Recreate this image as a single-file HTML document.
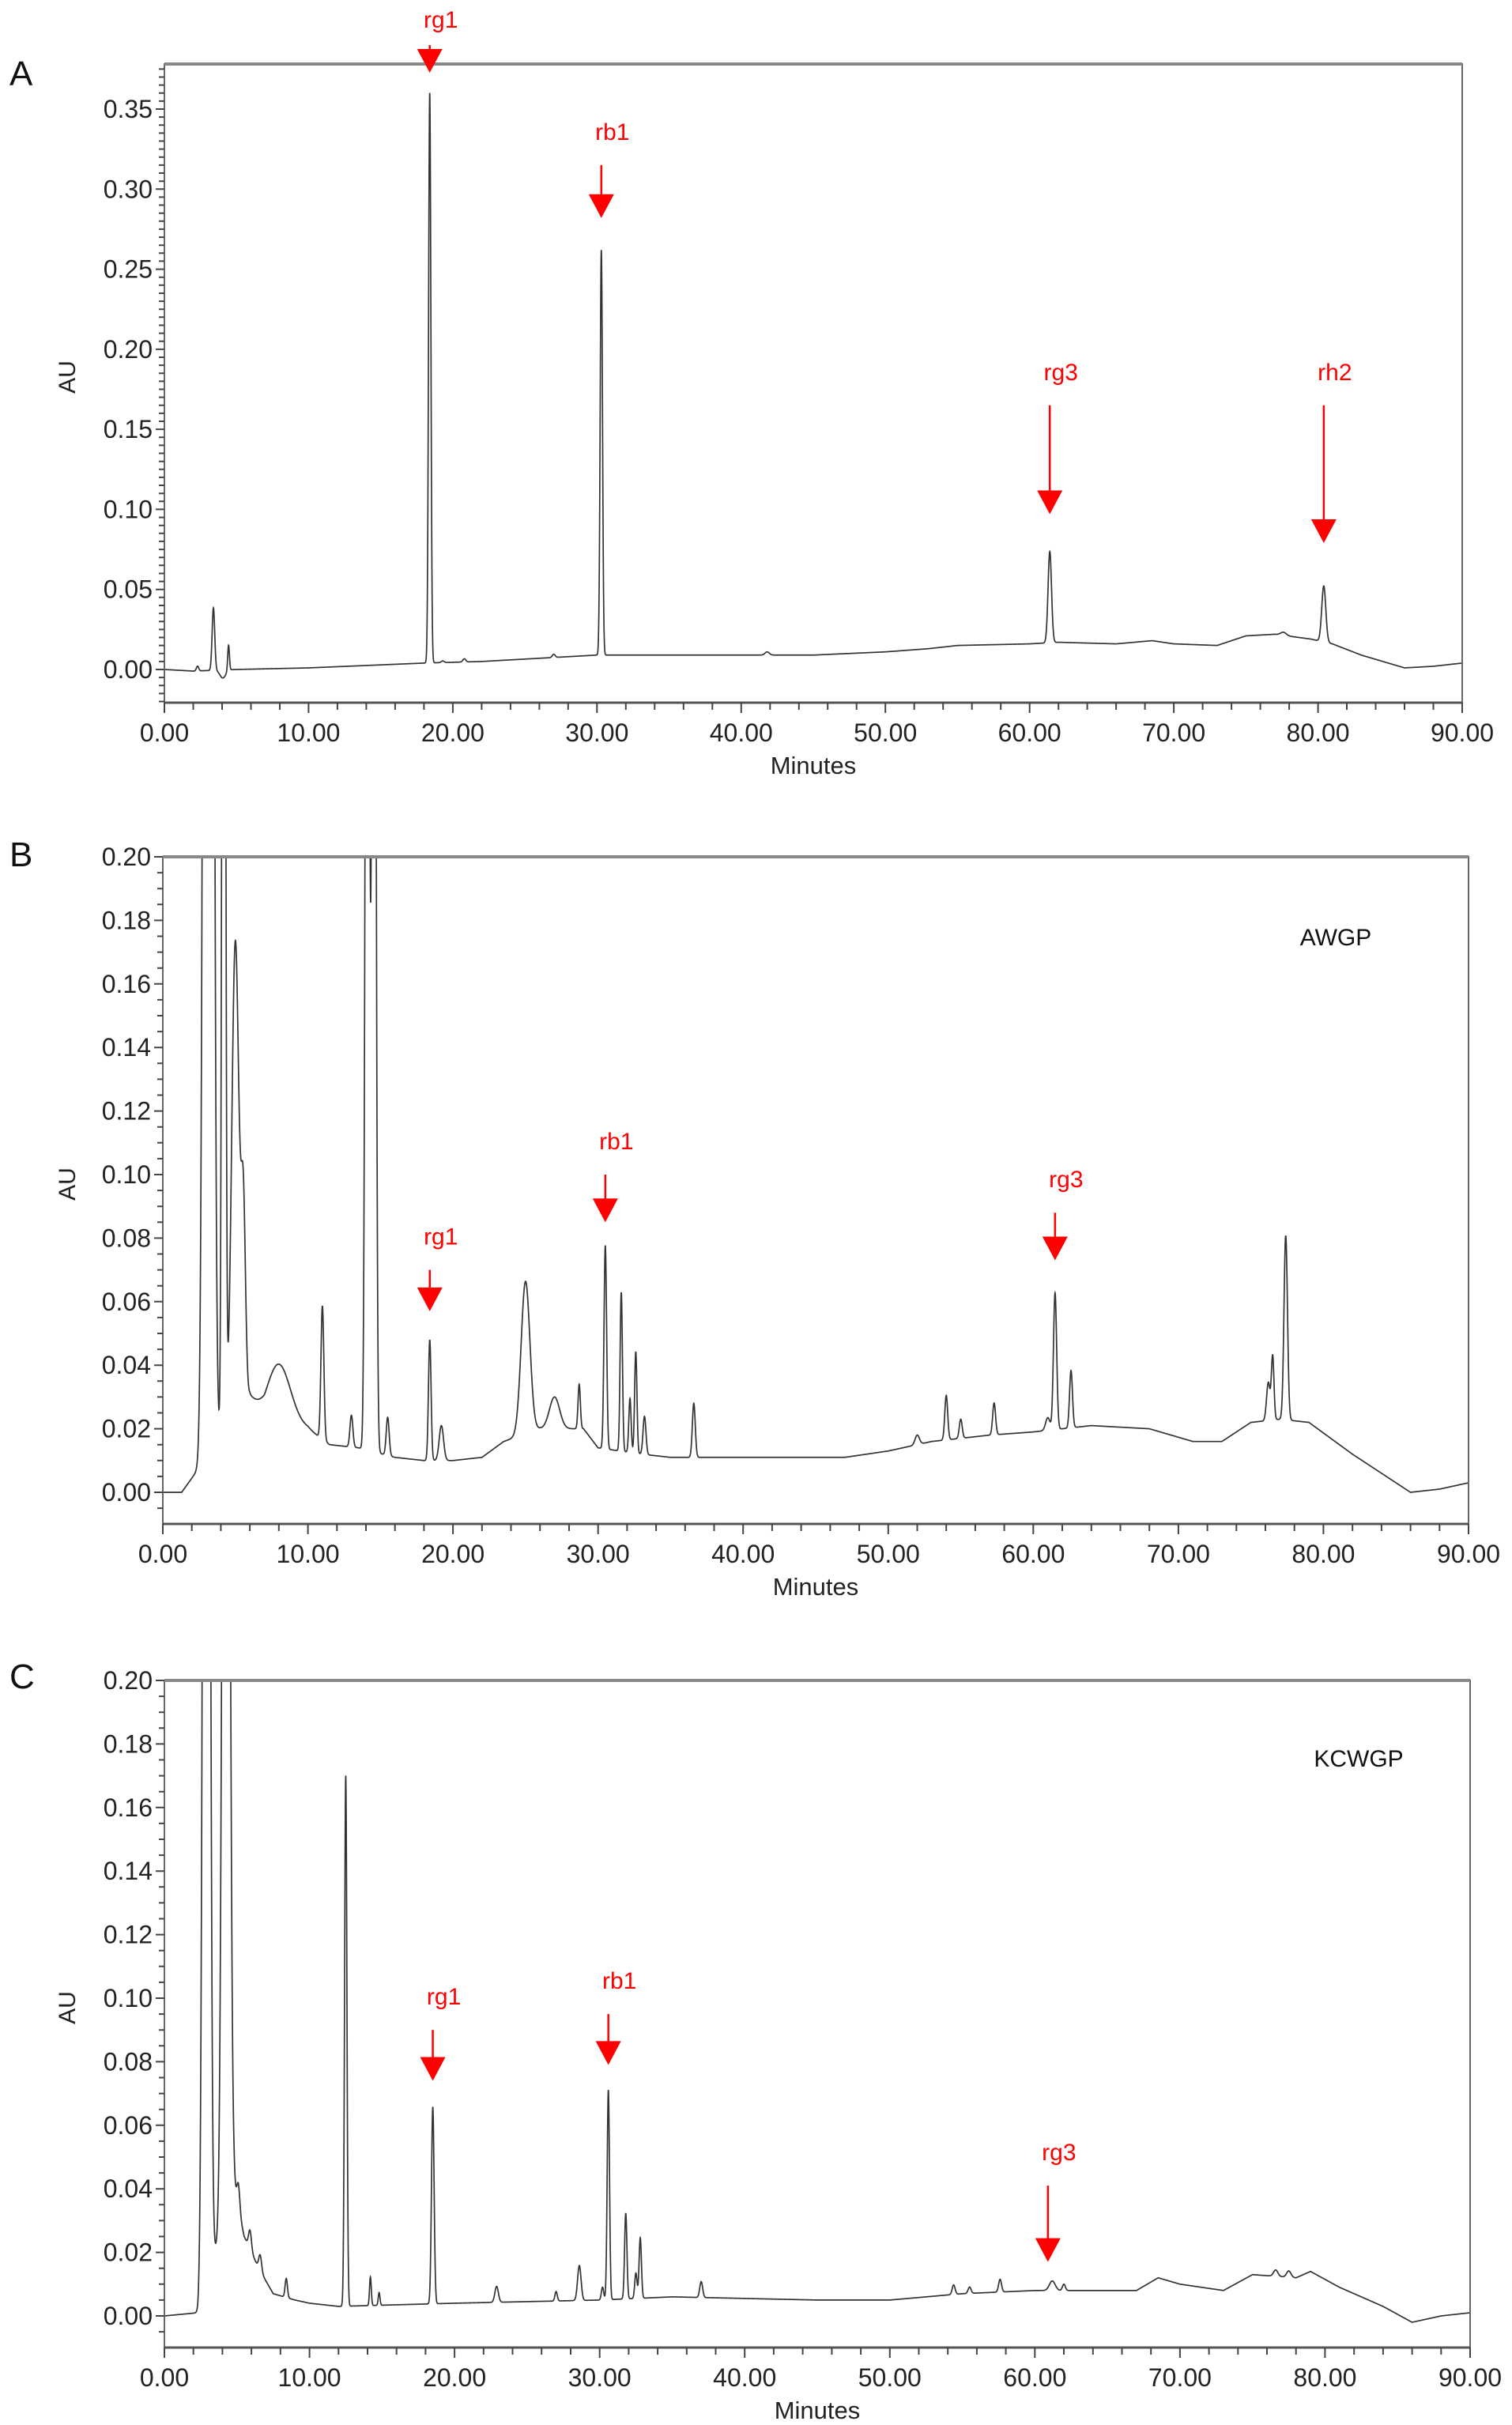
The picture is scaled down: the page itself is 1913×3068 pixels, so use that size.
<!DOCTYPE html>
<html><head><meta charset="utf-8">
<style>
html,body{margin:0;padding:0;background:#fff;}
svg{display:block;font-family:"Liberation Sans",Arial,sans-serif;}
</style></head>
<body>
<svg id="fig" width="1913" height="3068" viewBox="0 0 1913 3068" xmlns="http://www.w3.org/2000/svg"></svg>
<script>
// ---------- Panel A data ----------
const aBaseT = [0,2,5,10,18,22,30,40,45,50,53,55,60,62,66,68.5,70,73,75,77,79.5,81,83,86,88,90];
const aBaseV = [0,-0.001,0,0.001,0.004,0.005,0.009,0.009,0.009,0.011,0.013,0.015,0.016,0.017,0.016,0.018,0.016,0.015,0.021,0.022,0.019,0.016,0.009,0.001,0.002,0.004];
const aPeakT = [2.3,3.4,4.05,4.45,18.4,19.3,20.8,27,30.3,41.8,61.4,77.6,80.4];
const aPeakH = [0.003,0.039,-0.005,0.016,0.356,0.001,0.002,0.002,0.253,0.002,0.057,0.002,0.035];
const aPeakW = [0.08,0.09,0.2,0.06,0.08,0.1,0.1,0.1,0.08,0.15,0.12,0.2,0.14];
const aYTicks = [0,0.05,0.10,0.15,0.20,0.25,0.30,0.35];
// ---------- Panel B data ----------
const bBaseT = [0,1.3,6,7,10,11.5,13.5,16,18,20,22,23.5,26,29,30,33,35,40,47,50,53,57,60,64,68,71,73,75,77,79,82,86,88,90];
const bBaseV = [0,0,0.03,0.022,0.02,0.015,0.014,0.011,0.01,0.01,0.011,0.016,0.02,0.02,0.014,0.012,0.011,0.011,0.011,0.013,0.016,0.018,0.019,0.021,0.02,0.016,0.016,0.022,0.023,0.022,0.012,0,0.001,0.003];
const bPeakT = [3.15,4.2,5.0,5.55,8,11,13,14.1,14.55,15.5,18.4,19.2,25,27,28.7,30.5,31.6,32.2,32.6,33.2,36.6,52,54,55,57.3,61,61.5,62.6,76.2,76.5,77.4];
const bPeakH = [1.5,0.6,0.15,0.06,0.019,0.042,0.01,0.5,0.5,0.012,0.038,0.011,0.048,0.01,0.014,0.064,0.05,0.017,0.032,0.012,0.017,0.003,0.014,0.006,0.01,0.004,0.043,0.018,0.012,0.02,0.058];
const bPeakW = [0.22,0.1,0.25,0.15,0.8,0.1,0.1,0.12,0.12,0.1,0.09,0.15,0.3,0.35,0.08,0.09,0.08,0.08,0.08,0.1,0.1,0.15,0.1,0.1,0.1,0.15,0.11,0.1,0.12,0.09,0.12];
const bYTicks = [0,0.02,0.04,0.06,0.08,0.10,0.12,0.14,0.16,0.18,0.20];
// ---------- Panel C data ----------
const cBaseT = [0,2.3,4.8,5.5,6.5,7.5,9,10,12,20,30,35,45,50,55,60,62,67,68.5,70,73,75,78,79,81,84,86,88,90];
const cBaseV = [0,0.001,0.04,0.025,0.015,0.007,0.005,0.004,0.003,0.004,0.005,0.006,0.005,0.005,0.007,0.008,0.008,0.008,0.012,0.01,0.008,0.013,0.012,0.014,0.009,0.003,-0.002,0,0.001];
const cPeakT = [2.9,4.25,5.1,5.9,6.6,8.4,12.5,14.2,14.8,18.5,22.9,27,28.6,30.2,30.6,31.8,32.5,32.8,37,54.4,55.5,57.6,61.2,62,76.6,77.5];
const cPeakH = [0.8,0.6,0.008,0.006,0.005,0.006,0.167,0.009,0.004,0.062,0.005,0.003,0.011,0.004,0.066,0.027,0.008,0.019,0.005,0.003,0.002,0.004,0.003,0.002,0.002,0.002];
const cPeakW = [0.18,0.2,0.1,0.1,0.1,0.08,0.08,0.06,0.06,0.09,0.12,0.08,0.12,0.08,0.08,0.08,0.08,0.08,0.1,0.1,0.1,0.1,0.2,0.1,0.15,0.15];
const cYTicks = [0,0.02,0.04,0.06,0.08,0.10,0.12,0.14,0.16,0.18,0.20];
const xTicks = [0,10,20,30,40,50,60,70,80,90];
// ---------- annotation data ----------
const aAnnT = [18.4,30.3,61.4,80.4]; const aAnnLab=['rg1','rb1','rg3','rh2']; const aAnnTop=[0.385,0.315,0.165,0.165]; const aAnnTip=[0.3727,0.282,0.097,0.079];
const bAnnT = [18.4,30.5,61.5]; const bAnnLab=['rg1','rb1','rg3']; const bAnnTop=[0.07,0.1,0.088]; const bAnnTip=[0.057,0.085,0.073];
const cAnnT = [18.5,30.6,60.9]; const cAnnLab=['rg1','rb1','rg3']; const cAnnTop=[0.09,0.095,0.041]; const cAnnTip=[0.074,0.079,0.017];

const NS='http://www.w3.org/2000/svg';
const svg=document.getElementById('fig');
function mk(tag,attrs,parent){const e=document.createElementNS(NS,tag);for(const k in attrs)e.setAttribute(k,attrs[k]);(parent||svg).appendChild(e);return e;}

function panel(cfg){
  const g=mk('g',{});
  
  
  const X=t=>cfg.left+(t/90)*(cfg.right-cfg.left);
  const Y=v=>cfg.y0+(v/cfg.vRef)*(cfg.yRef-cfg.y0);
  const vTop=(cfg.top-cfg.y0)/(cfg.yRef-cfg.y0)*cfg.vRef;
  const vBot=(cfg.bottom-cfg.y0)/(cfg.yRef-cfg.y0)*cfg.vRef;
  const cid='clip'+cfg.letter;
  const cp=mk('clipPath',{id:cid},g);
  mk('rect',{x:cfg.left,y:cfg.top,width:cfg.right-cfg.left,height:cfg.bottom-cfg.top},cp);
  function base(t){const T=cfg.bT,V=cfg.bV;for(let i=1;i<T.length;i++){if(t<=T[i]){const f=(t-T[i-1])/(T[i]-T[i-1]);return V[i-1]+f*(V[i]-V[i-1]);}}return V[V.length-1];}
  let d='';
  for(let i=0;i<=9000;i++){const t=i*0.01;let v=base(t);
    for(let k=0;k<cfg.pT.length;k++){const z=(t-cfg.pT[k])/cfg.pW[k];if(Math.abs(z)<6)v+=cfg.pH[k]*Math.exp(-0.5*z*z);}
    const yy=Math.max(cfg.top-20,Math.min(cfg.bottom+20,Y(v)));
    d+=(i?'L':'M')+X(t).toFixed(2)+' '+yy.toFixed(2);}
  const tr=mk('path',{d:d,fill:'none',stroke:'#333','stroke-width':1.7,'clip-path':'url(#'+cid+')'},g);
  
  
  const fr=mk('rect',{x:cfg.left,y:cfg.top,width:cfg.right-cfg.left,height:cfg.bottom-cfg.top,fill:'none',stroke:'#666','stroke-width':2},g);
  
  
  mk('line',{x1:cfg.left,x2:cfg.right,y1:cfg.top,y2:cfg.top,stroke:'#888','stroke-width':4},g);
  mk('line',{x1:cfg.left,x2:cfg.right,y1:cfg.bottom,y2:cfg.bottom,stroke:'#555','stroke-width':3},g);
  let ticks='';
  const start=Math.ceil(vBot/0.005);
  for(let k=start;k*0.005<=vTop+1e-9;k++){const y=Y(k*0.005);ticks+=`M${cfg.left-7} ${y.toFixed(1)}H${cfg.left}`;}
  cfg.yt.forEach(v=>{const y=Y(v);ticks+=`M${cfg.left-11} ${y.toFixed(1)}H${cfg.left}`;});
  for(let t=0;t<=90;t+=2){const x=X(t);ticks+=`M${x.toFixed(1)} ${cfg.bottom}V${cfg.bottom+(t%10===0?13:9)}`;}
  const tk=mk('path',{d:ticks,stroke:'#444','stroke-width':2,fill:'none'},g);
  
  
  cfg.yt.forEach(v=>{const t=mk('text',{x:cfg.left-15,y:Y(v)+11,'font-size':32,'text-anchor':'end',fill:'#222'},g);t.textContent=v.toFixed(2);
    
    });
  xTicks.forEach(v=>{const t=mk('text',{x:X(v),y:cfg.bottom+49,'font-size':32,'text-anchor':'middle',fill:'#222'},g);t.textContent=v.toFixed(2);
    
    });
  const xl=mk('text',{x:(cfg.left+cfg.right)/2,y:cfg.bottom+90,'font-size':31,'text-anchor':'middle',fill:'#222'},g);xl.textContent='Minutes';
  
  
  const ay=(cfg.top+cfg.bottom)/2-8;
  const yl=mk('text',{x:95,y:ay,'font-size':30,'text-anchor':'middle',fill:'#222',transform:`rotate(-90 95 ${ay})`},g);yl.textContent='AU';
  
  
  const pl=mk('text',{x:12,y:cfg.letterY,'font-size':44,fill:'#111'},g);pl.textContent=cfg.letter;
  
  
  if(cfg.sample){const s=mk('text',{x:cfg.sampleX,y:cfg.sampleY,'font-size':30,'text-anchor':'middle',fill:'#111'},g);s.textContent=cfg.sample;
    
    }
  cfg.annT.forEach((t,i)=>{const x=X(t),y1=Y(cfg.annTop[i]),y2=Y(cfg.annTip[i]);
    const a=mk('g',{},g);
    
    
    if(y2-28>y1) mk('line',{x1:x,x2:x,y1:y1,y2:y2-28,stroke:'#f00','stroke-width':2.5},a);
    else mk('line',{x1:x,x2:x,y1:y1-10,y2:y2-28,stroke:'#f00','stroke-width':2.5},a);
    mk('path',{d:`M${x-16} ${y2-30}L${x+16} ${y2-30}L${x} ${y2}Z`,fill:'#f00'},a);
    const l=mk('text',{x:x+14,y:y1-32,'font-size':30,'text-anchor':'middle',fill:'#f00'},a);l.textContent=cfg.annLab[i];});
}
panel({letter:'A',letterY:108,left:208,right:1850,top:81,bottom:889,y0:847,yRef:138,vRef:0.35,bT:aBaseT,bV:aBaseV,pT:aPeakT,pH:aPeakH,pW:aPeakW,yt:aYTicks,annT:aAnnT,annLab:aAnnLab,annTop:aAnnTop,annTip:aAnnTip});
panel({letter:'B',letterY:1096,left:206,right:1858,top:1084,bottom:1928,y0:1888,yRef:1084,vRef:0.20,bT:bBaseT,bV:bBaseV,pT:bPeakT,pH:bPeakH,pW:bPeakW,yt:bYTicks,annT:bAnnT,annLab:bAnnLab,annTop:bAnnTop,annTip:bAnnTip,sample:'AWGP',sampleX:1690,sampleY:1196});
panel({letter:'C',letterY:2136,left:208,right:1860,top:2126,bottom:2970,y0:2930,yRef:2126,vRef:0.20,bT:cBaseT,bV:cBaseV,pT:cPeakT,pH:cPeakH,pW:cPeakW,yt:cYTicks,annT:cAnnT,annLab:cAnnLab,annTop:cAnnTop,annTip:cAnnTip,sample:'KCWGP',sampleX:1719,sampleY:2235});
</script>
</body></html>
